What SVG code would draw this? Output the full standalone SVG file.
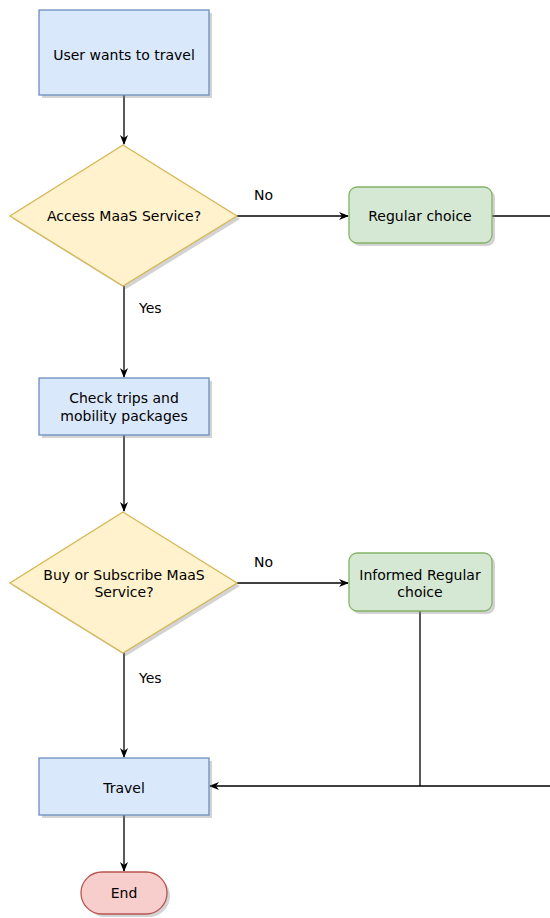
<svg xmlns="http://www.w3.org/2000/svg" width="550" height="918" viewBox="0 0 550 918">
  <defs>
    <marker id="arrow" viewBox="0 0 10 10" refX="9" refY="5" markerWidth="10" markerHeight="10" markerUnits="userSpaceOnUse" orient="auto">
      <path d="M0,1 L10,5 L0,9 L3,5 Z" fill="#000"/>
    </marker>
  </defs>
  <style>
    text { font-family: "DejaVu Sans", Verdana, sans-serif; font-size: 14px; fill: #000; text-anchor: middle; dominant-baseline: central; }
    .shadow { fill: #808080; opacity: 0.35; }
    .blue { fill: #dae8fc; stroke: #6c8ebf; stroke-width: 1.3; }
    .yellow { fill: #fff2cc; stroke: #d6b656; stroke-width: 1.3; }
    .green { fill: #d5e8d4; stroke: #82b366; stroke-width: 1.3; }
    .red { fill: #f8cecc; stroke: #b85450; stroke-width: 1.3; }
    .edge { fill: none; stroke: #000; stroke-width: 1.3; }
    .label { text-anchor: start; }
  </style>

  <g id="connectors">
    <path class="edge" d="M124,95 V144" marker-end="url(#arrow)"/>
    <path class="edge" d="M237,216 H348" marker-end="url(#arrow)"/>
    <path class="edge" d="M492,216 H550"/>
    <path class="edge" d="M124,286 V377" marker-end="url(#arrow)"/>
    <path class="edge" d="M124,435 V511" marker-end="url(#arrow)"/>
    <path class="edge" d="M237,583 H348" marker-end="url(#arrow)"/>
    <path class="edge" d="M124,653 V757" marker-end="url(#arrow)"/>
    <path class="edge" d="M420,611 V786"/>
    <path class="edge" d="M550,786 H210" marker-end="url(#arrow)"/>
    <path class="edge" d="M124,815 V871" marker-end="url(#arrow)"/>
    <text class="label" x="254" y="195">No</text>
    <text class="label" x="139" y="308">Yes</text>
    <text class="label" x="254" y="562">No</text>
    <text class="label" x="139" y="678">Yes</text>
  </g>

  <g id="start">
    <rect class="shadow" x="42" y="13" width="170" height="85"/>
    <rect class="blue" x="39" y="10" width="170" height="85"/>
    <text x="124" y="55">User wants to travel</text>
  </g>

  <g id="access-maas">
    <polygon class="shadow" points="126,148 240,219 126,289 13,219"/>
    <polygon class="yellow" points="123,145 237,216 123,286 10,216"/>
    <text x="124" y="216">Access MaaS Service?</text>
  </g>

  <g id="regular-choice">
    <rect class="shadow" x="352" y="190" width="143" height="56" rx="8"/>
    <rect class="green" x="349" y="187" width="143" height="56" rx="8"/>
    <text x="420" y="216">Regular choice</text>
  </g>

  <g id="check-trips">
    <rect class="shadow" x="42" y="381" width="170" height="57"/>
    <rect class="blue" x="39" y="378" width="170" height="57"/>
    <text x="124" y="398">Check trips and</text>
    <text x="124" y="416">mobility packages</text>
  </g>

  <g id="buy-subscribe">
    <polygon class="shadow" points="126,515 240,586 126,656 13,586"/>
    <polygon class="yellow" points="123,512 237,583 123,653 10,583"/>
    <text x="124" y="575">Buy or Subscribe MaaS</text>
    <text x="124" y="592">Service?</text>
  </g>

  <g id="informed-choice">
    <rect class="shadow" x="352" y="556" width="143" height="58" rx="8"/>
    <rect class="green" x="349" y="553" width="143" height="58" rx="8"/>
    <text x="420" y="575">Informed Regular</text>
    <text x="420" y="592">choice</text>
  </g>

  <g id="travel">
    <rect class="shadow" x="42" y="761" width="170" height="57"/>
    <rect class="blue" x="39" y="758" width="170" height="57"/>
    <text x="124" y="788">Travel</text>
  </g>

  <g id="end">
    <rect class="shadow" x="84" y="875" width="86" height="42" rx="21"/>
    <rect class="red" x="81" y="872" width="86" height="42" rx="21"/>
    <text x="124" y="893">End</text>
  </g>
</svg>
